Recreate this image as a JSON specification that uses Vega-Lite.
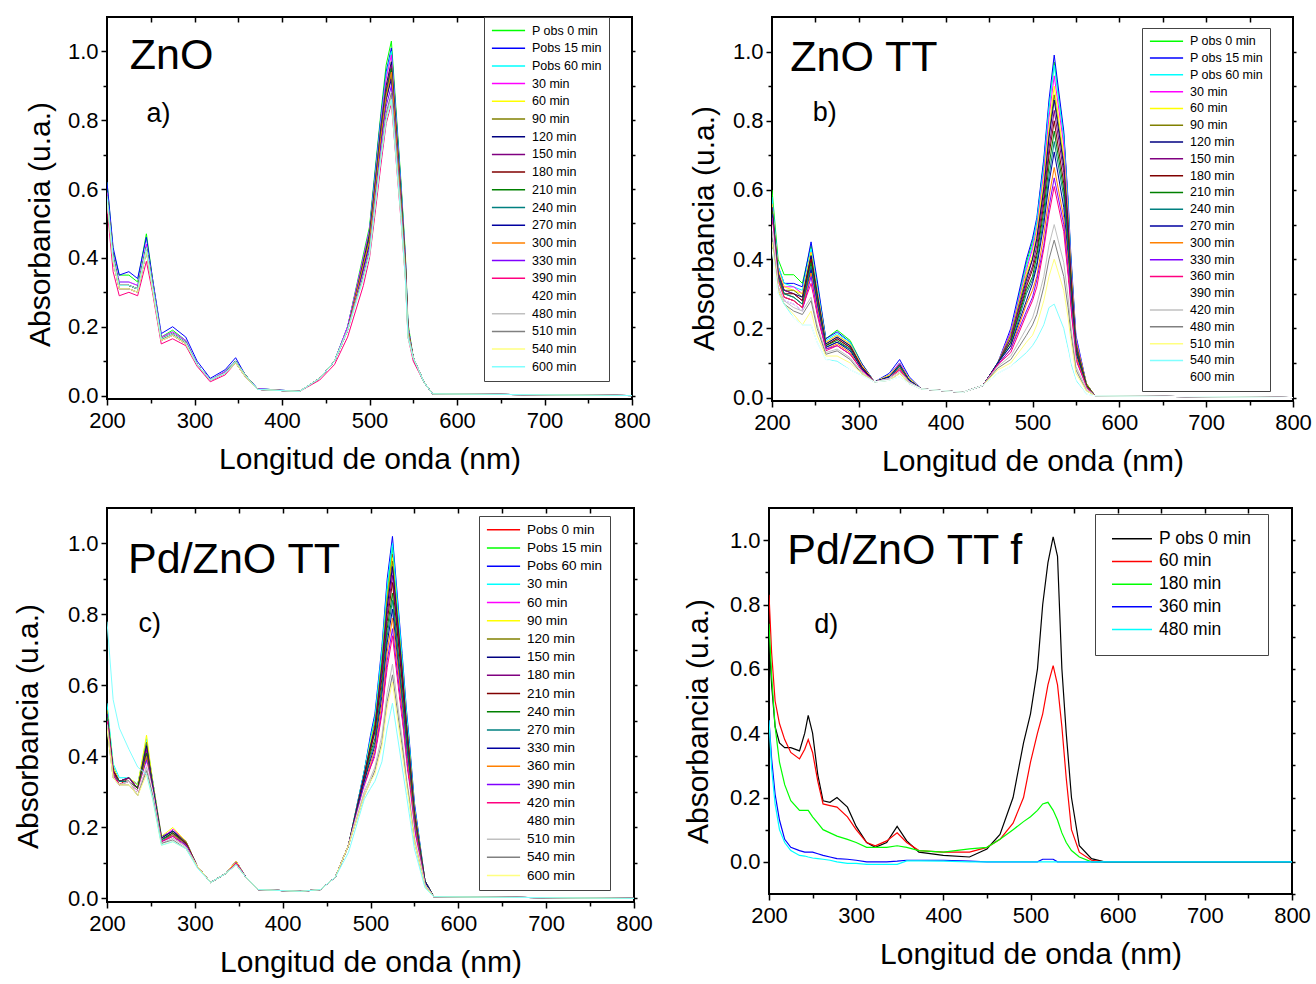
{
"$schema":"https://vega.github.io/schema/vega-lite/v6.json",
"background":"white",
"padding":{"left":12,"top":15,"right":2,"bottom":2},
"config":{
 "font":"Liberation Sans",
 "view":{"stroke":"black","strokeWidth":2},
 "axis":{"grid":false,"domain":false,"labelFlush":false,"tickColor":"black","tickWidth":1.5,"labelColor":"black","titleColor":"black","labelFontSize":22,"titleFontSize":30,"titleFontWeight":"normal","labelFont":"Liberation Sans","titleFont":"Liberation Sans"},
 "legend":{"orient":"none","symbolType":"stroke","symbolStrokeWidth":1.5,"symbolSize":1100,"labelFont":"Liberation Sans","labelColor":"black","padding":7,"strokeColor":"#444","fillColor":"white","labelOffset":6,"labelLimit":300},
 "text":{"font":"Liberation Sans","color":"black"}
},
"datasets":{
"a":[
{"w":200,"P0":0.62,"P15":0.62,"P60":0.59,"30":0.59,"60":0.58,"90":0.58,"120":0.58,"150":0.58,"180":0.57,"210":0.58,"240":0.58,"270":0.58,"300":0.58,"330":0.57,"390":0.55,"420":0.57,"480":0.57,"510":0.57,"540":0.57,"600":0.58},
{"w":207,"P0":0.42,"P15":0.43,"P60":0.41,"30":0.41,"60":0.40,"90":0.40,"120":0.40,"150":0.40,"180":0.39,"210":0.40,"240":0.40,"270":0.40,"300":0.40,"330":0.39,"390":0.36,"420":0.39,"480":0.39,"510":0.39,"540":0.39,"600":0.40},
{"w":214,"P0":0.35,"P15":0.35,"P60":0.33,"30":0.33,"60":0.32,"90":0.32,"120":0.32,"150":0.32,"180":0.31,"210":0.32,"240":0.32,"270":0.32,"300":0.32,"330":0.31,"390":0.29,"420":0.31,"480":0.31,"510":0.31,"540":0.31,"600":0.32},
{"w":225,"P0":0.35,"P15":0.36,"P60":0.33,"30":0.33,"60":0.32,"90":0.32,"120":0.32,"150":0.32,"180":0.31,"210":0.32,"240":0.32,"270":0.32,"300":0.32,"330":0.31,"390":0.30,"420":0.31,"480":0.31,"510":0.31,"540":0.31,"600":0.32},
{"w":235,"P0":0.33,"P15":0.34,"P60":0.32,"30":0.32,"60":0.31,"90":0.31,"120":0.31,"150":0.31,"180":0.30,"210":0.31,"240":0.31,"270":0.31,"300":0.31,"330":0.30,"390":0.29,"420":0.30,"480":0.30,"510":0.30,"540":0.30,"600":0.31},
{"w":245,"P0":0.47,"P15":0.46,"P60":0.44,"30":0.44,"60":0.43,"90":0.43,"120":0.43,"150":0.43,"180":0.42,"210":0.43,"240":0.43,"270":0.43,"300":0.43,"330":0.42,"390":0.39,"420":0.42,"480":0.42,"510":0.42,"540":0.42,"600":0.43},
{"w":252,"P0":0.34,"P15":0.34,"P60":0.33,"30":0.33,"60":0.32,"90":0.32,"120":0.32,"150":0.32,"180":0.31,"210":0.32,"240":0.32,"270":0.32,"300":0.32,"330":0.31,"390":0.30,"420":0.31,"480":0.31,"510":0.31,"540":0.31,"600":0.32},
{"w":262,"P0":0.17,"P15":0.18,"P60":0.17,"30":0.17,"60":0.165,"90":0.165,"120":0.165,"150":0.165,"180":0.16,"210":0.165,"240":0.165,"270":0.165,"300":0.165,"330":0.16,"390":0.15,"420":0.16,"480":0.16,"510":0.16,"540":0.16,"600":0.165},
{"w":275,"P0":0.19,"P15":0.20,"P60":0.185,"30":0.185,"60":0.18,"90":0.18,"120":0.18,"150":0.18,"180":0.175,"210":0.18,"240":0.18,"270":0.18,"300":0.18,"330":0.175,"390":0.165,"420":0.175,"480":0.175,"510":0.175,"540":0.175,"600":0.18},
{"w":290,"P0":0.16,"P15":0.17,"P60":0.16,"30":0.16,"60":0.155,"90":0.155,"120":0.155,"150":0.155,"180":0.15,"210":0.155,"240":0.155,"270":0.155,"300":0.155,"330":0.15,"390":0.145,"420":0.15,"480":0.15,"510":0.15,"540":0.15,"600":0.155},
{"w":303,"P0":0.09,"P15":0.10,"P60":0.09,"30":0.09,"60":0.09,"90":0.09,"120":0.09,"150":0.09,"180":0.09,"210":0.09,"240":0.09,"270":0.09,"300":0.09,"330":0.09,"390":0.085,"420":0.09,"480":0.09,"510":0.09,"540":0.09,"600":0.09},
{"w":318,"P0":0.045,"P15":0.05,"P60":0.045,"30":0.045,"60":0.045,"90":0.045,"120":0.045,"150":0.045,"180":0.045,"210":0.045,"240":0.045,"270":0.045,"300":0.045,"330":0.045,"390":0.04,"420":0.045,"480":0.045,"510":0.045,"540":0.045,"600":0.045},
{"w":335,"P0":0.07,"P15":0.075,"P60":0.07,"30":0.07,"60":0.065,"90":0.065,"120":0.065,"150":0.065,"180":0.065,"210":0.065,"240":0.065,"270":0.065,"300":0.065,"330":0.065,"390":0.06,"420":0.065,"480":0.065,"510":0.065,"540":0.065,"600":0.065},
{"w":347,"P0":0.10,"P15":0.11,"P60":0.10,"30":0.10,"60":0.10,"90":0.10,"120":0.10,"150":0.10,"180":0.095,"210":0.10,"240":0.10,"270":0.10,"300":0.10,"330":0.095,"390":0.095,"420":0.095,"480":0.095,"510":0.095,"540":0.095,"600":0.10},
{"w":358,"P0":0.06,"P15":0.06,"P60":0.06,"30":0.06,"60":0.06,"90":0.06,"120":0.06,"150":0.06,"180":0.055,"210":0.06,"240":0.06,"270":0.06,"300":0.06,"330":0.055,"390":0.055,"420":0.055,"480":0.055,"510":0.055,"540":0.055,"600":0.06},
{"w":372,"P0":0.02,"P15":0.02,"P60":0.02,"30":0.02,"60":0.018,"90":0.018,"120":0.018,"150":0.018,"180":0.018,"210":0.018,"240":0.018,"270":0.018,"300":0.018,"330":0.018,"390":0.018,"420":0.018,"480":0.018,"510":0.018,"540":0.018,"600":0.018},
{"w":420,"P0":0.012,"P15":0.012,"P60":0.012,"30":0.012,"60":0.012,"90":0.012,"120":0.012,"150":0.012,"180":0.012,"210":0.012,"240":0.012,"270":0.012,"300":0.012,"330":0.012,"390":0.012,"420":0.012,"480":0.012,"510":0.012,"540":0.012,"600":0.012},
{"w":443,"P0":0.05,"P15":0.05,"P60":0.05,"30":0.05,"60":0.05,"90":0.05,"120":0.05,"150":0.05,"180":0.05,"210":0.05,"240":0.05,"270":0.05,"300":0.05,"330":0.05,"390":0.045,"420":0.05,"480":0.05,"510":0.05,"540":0.05,"600":0.05},
{"w":460,"P0":0.10,"P15":0.10,"P60":0.10,"30":0.10,"60":0.10,"90":0.10,"120":0.10,"150":0.10,"180":0.10,"210":0.10,"240":0.10,"270":0.10,"300":0.10,"330":0.10,"390":0.09,"420":0.10,"480":0.10,"510":0.10,"540":0.10,"600":0.10},
{"w":475,"P0":0.20,"P15":0.20,"P60":0.20,"30":0.20,"60":0.19,"90":0.19,"120":0.19,"150":0.19,"180":0.19,"210":0.19,"240":0.19,"270":0.19,"300":0.19,"330":0.19,"390":0.17,"420":0.19,"480":0.19,"510":0.19,"540":0.19,"600":0.19},
{"w":493,"P0":0.41,"P15":0.40,"P60":0.40,"30":0.40,"60":0.39,"90":0.38,"120":0.39,"150":0.38,"180":0.37,"210":0.38,"240":0.38,"270":0.37,"300":0.38,"330":0.36,"390":0.32,"420":0.35,"480":0.35,"510":0.35,"540":0.34,"600":0.34},
{"w":500,"P0":0.49,"P15":0.48,"P60":0.48,"30":0.48,"60":0.47,"90":0.46,"120":0.47,"150":0.46,"180":0.45,"210":0.46,"240":0.45,"270":0.44,"300":0.45,"330":0.43,"390":0.40,"420":0.42,"480":0.42,"510":0.42,"540":0.41,"600":0.41},
{"w":505,"P0":0.62,"P15":0.61,"P60":0.60,"30":0.59,"60":0.58,"90":0.57,"120":0.58,"150":0.58,"180":0.56,"210":0.57,"240":0.56,"270":0.55,"300":0.56,"330":0.54,"390":0.50,"420":0.53,"480":0.52,"510":0.53,"540":0.52,"600":0.52},
{"w":513,"P0":0.82,"P15":0.81,"P60":0.80,"30":0.79,"60":0.78,"90":0.76,"120":0.78,"150":0.77,"180":0.74,"210":0.76,"240":0.75,"270":0.74,"300":0.75,"330":0.72,"390":0.67,"420":0.70,"480":0.70,"510":0.70,"540":0.69,"600":0.69},
{"w":519,"P0":0.96,"P15":0.94,"P60":0.93,"30":0.92,"60":0.90,"90":0.88,"120":0.90,"150":0.89,"180":0.86,"210":0.88,"240":0.87,"270":0.86,"300":0.87,"330":0.84,"390":0.79,"420":0.82,"480":0.81,"510":0.82,"540":0.80,"600":0.80},
{"w":525,"P0":1.03,"P15":1.01,"P60":1.00,"30":0.99,"60":0.97,"90":0.95,"120":0.97,"150":0.96,"180":0.93,"210":0.95,"240":0.94,"270":0.92,"300":0.94,"330":0.90,"390":0.85,"420":0.88,"480":0.87,"510":0.88,"540":0.86,"600":0.86},
{"w":536,"P0":0.62,"P15":0.61,"P60":0.60,"30":0.59,"60":0.58,"90":0.57,"120":0.58,"150":0.58,"180":0.56,"210":0.57,"240":0.56,"270":0.55,"300":0.56,"330":0.54,"390":0.51,"420":0.53,"480":0.52,"510":0.53,"540":0.52,"600":0.52},
{"w":541,"P0":0.41,"P15":0.40,"P60":0.40,"30":0.40,"60":0.39,"90":0.38,"120":0.39,"150":0.38,"180":0.37,"210":0.38,"240":0.38,"270":0.37,"300":0.38,"330":0.36,"390":0.34,"420":0.35,"480":0.35,"510":0.35,"540":0.34,"600":0.34},
{"w":544,"P0":0.21,"P15":0.20,"P60":0.20,"30":0.20,"60":0.19,"90":0.19,"120":0.19,"150":0.19,"180":0.19,"210":0.19,"240":0.19,"270":0.18,"300":0.19,"330":0.18,"390":0.17,"420":0.18,"480":0.17,"510":0.18,"540":0.17,"600":0.17},
{"w":550,"P0":0.11,"P15":0.11,"P60":0.11,"30":0.11,"60":0.11,"90":0.11,"120":0.11,"150":0.11,"180":0.11,"210":0.11,"240":0.11,"270":0.11,"300":0.11,"330":0.11,"390":0.10,"420":0.11,"480":0.11,"510":0.11,"540":0.11,"600":0.11},
{"w":562,"P0":0.04,"P15":0.04,"P60":0.04,"30":0.04,"60":0.04,"90":0.04,"120":0.04,"150":0.04,"180":0.04,"210":0.04,"240":0.04,"270":0.04,"300":0.04,"330":0.04,"390":0.04,"420":0.04,"480":0.04,"510":0.04,"540":0.04,"600":0.04},
{"w":572,"P0":0.005,"P15":0.005,"P60":0.005,"30":0.005,"60":0.005,"90":0.005,"120":0.005,"150":0.005,"180":0.005,"210":0.005,"240":0.005,"270":0.005,"300":0.005,"330":0.005,"390":0.005,"420":0.005,"480":0.005,"510":0.005,"540":0.005,"600":0.005},
{"w":800,"P0":0,"P15":0,"P60":0,"30":0,"60":0,"90":0,"120":0,"150":0,"180":0,"210":0,"240":0,"270":0,"300":0,"330":0,"390":0,"420":0,"480":0,"510":0,"540":0,"600":0}
],
"b":[
{"w":200,"P0":0.60,"P15":0.57,"P60":0.58,"30":0.56,"60":0.56,"90":0.55,"120":0.55,"150":0.55,"180":0.54,"210":0.54,"240":0.53,"270":0.53,"300":0.52,"330":0.52,"360":0.51,"390":0.50,"420":0.48,"480":0.46,"510":0.45,"540":0.43,"600":0.43},
{"w":207,"P0":0.40,"P15":0.38,"P60":0.38,"30":0.37,"60":0.37,"90":0.36,"120":0.36,"150":0.36,"180":0.35,"210":0.35,"240":0.35,"270":0.34,"300":0.34,"330":0.33,"360":0.33,"390":0.33,"420":0.32,"480":0.31,"510":0.31,"540":0.30,"600":0.30},
{"w":214,"P0":0.355,"P15":0.33,"P60":0.33,"30":0.32,"60":0.32,"90":0.31,"120":0.31,"150":0.31,"180":0.30,"210":0.30,"240":0.30,"270":0.29,"300":0.29,"330":0.28,"360":0.29,"390":0.28,"420":0.28,"480":0.27,"510":0.27,"540":0.27,"600":0.26},
{"w":225,"P0":0.355,"P15":0.33,"P60":0.32,"30":0.32,"60":0.31,"90":0.31,"120":0.30,"150":0.30,"180":0.30,"210":0.29,"240":0.29,"270":0.28,"300":0.28,"330":0.27,"360":0.28,"390":0.27,"420":0.26,"480":0.25,"510":0.24,"540":0.23,"600":0.23},
{"w":235,"P0":0.33,"P15":0.32,"P60":0.31,"30":0.30,"60":0.30,"90":0.29,"120":0.29,"150":0.28,"180":0.28,"210":0.27,"240":0.27,"270":0.26,"300":0.26,"330":0.25,"360":0.26,"390":0.25,"420":0.25,"480":0.24,"510":0.21,"540":0.21,"600":0.21},
{"w":245,"P0":0.44,"P15":0.45,"P60":0.43,"30":0.42,"60":0.42,"90":0.41,"120":0.41,"150":0.40,"180":0.40,"210":0.39,"240":0.38,"270":0.37,"300":0.36,"330":0.35,"360":0.33,"390":0.31,"420":0.29,"480":0.28,"510":0.25,"540":0.21,"600":0.21},
{"w":252,"P0":0.33,"P15":0.34,"P60":0.32,"30":0.31,"60":0.31,"90":0.30,"120":0.30,"150":0.29,"180":0.29,"210":0.28,"240":0.28,"270":0.27,"300":0.26,"330":0.25,"360":0.24,"390":0.22,"420":0.21,"480":0.20,"510":0.18,"540":0.16,"600":0.16},
{"w":262,"P0":0.17,"P15":0.17,"P60":0.165,"30":0.16,"60":0.16,"90":0.155,"120":0.155,"150":0.15,"180":0.15,"210":0.15,"240":0.145,"270":0.145,"300":0.14,"330":0.14,"360":0.135,"390":0.13,"420":0.13,"480":0.125,"510":0.12,"540":0.11,"600":0.11},
{"w":275,"P0":0.195,"P15":0.19,"P60":0.185,"30":0.18,"60":0.18,"90":0.175,"120":0.175,"150":0.17,"180":0.17,"210":0.165,"240":0.16,"270":0.16,"300":0.155,"330":0.15,"360":0.15,"390":0.145,"420":0.14,"480":0.135,"510":0.12,"540":0.105,"600":0.10},
{"w":290,"P0":0.165,"P15":0.16,"P60":0.16,"30":0.155,"60":0.155,"90":0.15,"120":0.15,"150":0.145,"180":0.145,"210":0.14,"240":0.14,"270":0.135,"300":0.13,"330":0.125,"360":0.125,"390":0.12,"420":0.115,"480":0.11,"510":0.10,"540":0.08,"600":0.08},
{"w":303,"P0":0.10,"P15":0.10,"P60":0.095,"30":0.095,"60":0.095,"90":0.09,"120":0.09,"150":0.09,"180":0.09,"210":0.085,"240":0.085,"270":0.085,"300":0.08,"330":0.08,"360":0.08,"390":0.075,"420":0.075,"480":0.07,"510":0.07,"540":0.065,"600":0.065},
{"w":318,"P0":0.045,"P15":0.045,"P60":0.045,"30":0.045,"60":0.045,"90":0.045,"120":0.045,"150":0.045,"180":0.045,"210":0.045,"240":0.045,"270":0.045,"300":0.045,"330":0.045,"360":0.045,"390":0.045,"420":0.045,"480":0.045,"510":0.045,"540":0.045,"600":0.045},
{"w":335,"P0":0.065,"P15":0.07,"P60":0.065,"30":0.065,"60":0.065,"90":0.06,"120":0.06,"150":0.06,"180":0.06,"210":0.06,"240":0.06,"270":0.06,"300":0.055,"330":0.055,"360":0.055,"390":0.055,"420":0.055,"480":0.05,"510":0.05,"540":0.05,"600":0.05},
{"w":347,"P0":0.10,"P15":0.11,"P60":0.10,"30":0.10,"60":0.095,"90":0.095,"120":0.095,"150":0.09,"180":0.09,"210":0.09,"240":0.09,"270":0.085,"300":0.085,"330":0.08,"360":0.08,"390":0.075,"420":0.075,"480":0.07,"510":0.07,"540":0.06,"600":0.06},
{"w":358,"P0":0.055,"P15":0.06,"P60":0.055,"30":0.055,"60":0.055,"90":0.05,"120":0.05,"150":0.05,"180":0.05,"210":0.05,"240":0.05,"270":0.05,"300":0.045,"330":0.045,"360":0.045,"390":0.045,"420":0.045,"480":0.04,"510":0.04,"540":0.04,"600":0.04},
{"w":372,"P0":0.025,"P15":0.025,"P60":0.025,"30":0.025,"60":0.025,"90":0.025,"120":0.025,"150":0.025,"180":0.025,"210":0.025,"240":0.025,"270":0.025,"300":0.025,"330":0.025,"360":0.025,"390":0.025,"420":0.025,"480":0.025,"510":0.025,"540":0.025,"600":0.025},
{"w":420,"P0":0.015,"P15":0.015,"P60":0.015,"30":0.015,"60":0.015,"90":0.015,"120":0.015,"150":0.015,"180":0.015,"210":0.015,"240":0.015,"270":0.015,"300":0.015,"330":0.015,"360":0.015,"390":0.015,"420":0.015,"480":0.015,"510":0.015,"540":0.015,"600":0.015},
{"w":443,"P0":0.035,"P15":0.035,"P60":0.035,"30":0.035,"60":0.035,"90":0.035,"120":0.035,"150":0.035,"180":0.035,"210":0.035,"240":0.035,"270":0.035,"300":0.035,"330":0.035,"360":0.035,"390":0.035,"420":0.035,"480":0.035,"510":0.035,"540":0.035,"600":0.035},
{"w":460,"P0":0.10,"P15":0.10,"P60":0.10,"30":0.10,"60":0.10,"90":0.10,"120":0.10,"150":0.10,"180":0.10,"210":0.10,"240":0.10,"270":0.10,"300":0.095,"330":0.095,"360":0.095,"390":0.09,"420":0.09,"480":0.085,"510":0.08,"540":0.07,"600":0.07},
{"w":475,"P0":0.19,"P15":0.20,"P60":0.19,"30":0.19,"60":0.18,"90":0.18,"120":0.17,"150":0.17,"180":0.16,"210":0.16,"240":0.15,"270":0.15,"300":0.14,"330":0.14,"360":0.13,"390":0.12,"420":0.12,"480":0.11,"510":0.10,"540":0.09,"600":0.09},
{"w":493,"P0":0.39,"P15":0.40,"P60":0.38,"30":0.37,"60":0.36,"90":0.35,"120":0.34,"150":0.33,"180":0.32,"210":0.31,"240":0.30,"270":0.28,"300":0.27,"330":0.25,"360":0.24,"390":0.22,"420":0.20,"480":0.18,"510":0.16,"540":0.13,"600":0.12},
{"w":500,"P0":0.45,"P15":0.46,"P60":0.44,"30":0.43,"60":0.41,"90":0.40,"120":0.40,"150":0.38,"180":0.37,"210":0.35,"240":0.34,"270":0.33,"300":0.31,"330":0.29,"360":0.28,"390":0.25,"420":0.23,"480":0.21,"510":0.18,"540":0.15,"600":0.14},
{"w":505,"P0":0.51,"P15":0.52,"P60":0.51,"30":0.49,"60":0.48,"90":0.46,"120":0.46,"150":0.44,"180":0.42,"210":0.41,"240":0.39,"270":0.38,"300":0.35,"330":0.34,"360":0.32,"390":0.29,"420":0.27,"480":0.24,"510":0.21,"540":0.17,"600":0.16},
{"w":513,"P0":0.68,"P15":0.69,"P60":0.67,"30":0.65,"60":0.63,"90":0.61,"120":0.60,"150":0.58,"180":0.56,"210":0.54,"240":0.52,"270":0.50,"300":0.47,"330":0.44,"360":0.43,"390":0.39,"420":0.35,"480":0.32,"510":0.28,"540":0.21,"600":0.20},
{"w":519,"P0":0.84,"P15":0.86,"P60":0.84,"30":0.81,"60":0.78,"90":0.76,"120":0.75,"150":0.72,"180":0.70,"210":0.67,"240":0.64,"270":0.62,"300":0.58,"330":0.55,"360":0.53,"390":0.48,"420":0.44,"480":0.40,"510":0.35,"540":0.26,"600":0.24},
{"w":525,"P0":0.97,"P15":0.99,"P60":0.96,"30":0.93,"60":0.90,"90":0.875,"120":0.86,"150":0.83,"180":0.80,"210":0.77,"240":0.74,"270":0.71,"300":0.665,"330":0.635,"360":0.61,"390":0.55,"420":0.50,"480":0.455,"510":0.40,"540":0.27,"600":0.25},
{"w":536,"P0":0.76,"P15":0.77,"P60":0.75,"30":0.73,"60":0.70,"90":0.68,"120":0.67,"150":0.65,"180":0.62,"210":0.60,"240":0.58,"270":0.55,"300":0.52,"330":0.50,"360":0.48,"390":0.43,"420":0.39,"480":0.35,"510":0.31,"540":0.20,"600":0.18},
{"w":541,"P0":0.56,"P15":0.57,"P60":0.56,"30":0.54,"60":0.52,"90":0.51,"120":0.50,"150":0.48,"180":0.46,"210":0.45,"240":0.43,"270":0.41,"300":0.39,"330":0.37,"360":0.35,"390":0.32,"420":0.29,"480":0.26,"510":0.23,"540":0.14,"600":0.13},
{"w":544,"P0":0.41,"P15":0.42,"P60":0.40,"30":0.39,"60":0.38,"90":0.37,"120":0.36,"150":0.35,"180":0.34,"210":0.32,"240":0.31,"270":0.30,"300":0.28,"330":0.27,"360":0.26,"390":0.23,"420":0.21,"480":0.19,"510":0.17,"540":0.10,"600":0.09},
{"w":550,"P0":0.17,"P15":0.18,"P60":0.17,"30":0.17,"60":0.16,"90":0.16,"120":0.15,"150":0.15,"180":0.14,"210":0.14,"240":0.13,"270":0.13,"300":0.12,"330":0.11,"360":0.11,"390":0.10,"420":0.09,"480":0.08,"510":0.07,"540":0.05,"600":0.045},
{"w":562,"P0":0.04,"P15":0.04,"P60":0.04,"30":0.04,"60":0.04,"90":0.04,"120":0.035,"150":0.035,"180":0.035,"210":0.035,"240":0.03,"270":0.03,"300":0.03,"330":0.03,"360":0.03,"390":0.025,"420":0.025,"480":0.02,"510":0.02,"540":0.01,"600":0.01},
{"w":572,"P0":0.005,"P15":0.005,"P60":0.005,"30":0.005,"60":0.005,"90":0.005,"120":0.005,"150":0.005,"180":0.005,"210":0.005,"240":0.005,"270":0.005,"300":0.005,"330":0.005,"360":0.005,"390":0.005,"420":0.005,"480":0.005,"510":0.005,"540":0.005,"600":0.005},
{"w":800,"P0":0,"P15":0,"P60":0,"30":0,"60":0,"90":0,"120":0,"150":0,"180":0,"210":0,"240":0,"270":0,"300":0,"330":0,"360":0,"390":0,"420":0,"480":0,"510":0,"540":0,"600":0}
],
"c":[
{"w":200,"P0":0.52,"P15":0.54,"P60":0.53,"30":0.55,"60":0.52,"90":0.53,"120":0.53,"150":0.52,"180":0.52,"210":0.51,"240":0.51,"270":0.51,"330":0.50,"360":0.50,"390":0.50,"420":0.50,"480":0.49,"510":0.49,"540":0.48,"600":0.48,"x":0.78},
{"w":207,"P0":0.36,"P15":0.37,"P60":0.37,"30":0.38,"60":0.36,"90":0.37,"120":0.36,"150":0.36,"180":0.36,"210":0.36,"240":0.35,"270":0.35,"330":0.35,"360":0.35,"390":0.35,"420":0.35,"480":0.34,"510":0.34,"540":0.34,"600":0.34,"x":0.56},
{"w":214,"P0":0.32,"P15":0.33,"P60":0.33,"30":0.34,"60":0.33,"90":0.33,"120":0.33,"150":0.33,"180":0.33,"210":0.33,"240":0.33,"270":0.33,"330":0.32,"360":0.32,"390":0.32,"420":0.32,"480":0.32,"510":0.32,"540":0.32,"600":0.32,"x":0.48},
{"w":225,"P0":0.34,"P15":0.34,"P60":0.34,"30":0.34,"60":0.34,"90":0.34,"120":0.34,"150":0.34,"180":0.34,"210":0.33,"240":0.33,"270":0.33,"330":0.33,"360":0.33,"390":0.33,"420":0.33,"480":0.33,"510":0.33,"540":0.32,"600":0.32,"x":0.42},
{"w":235,"P0":0.31,"P15":0.32,"P60":0.32,"30":0.32,"60":0.31,"90":0.32,"120":0.31,"150":0.31,"180":0.31,"210":0.31,"240":0.31,"270":0.30,"330":0.30,"360":0.30,"390":0.30,"420":0.30,"480":0.30,"510":0.29,"540":0.29,"600":0.29,"x":0.37},
{"w":245,"P0":0.43,"P15":0.44,"P60":0.44,"30":0.45,"60":0.42,"90":0.46,"120":0.44,"150":0.43,"180":0.42,"210":0.41,"240":0.41,"270":0.40,"330":0.40,"360":0.40,"390":0.39,"420":0.38,"480":0.38,"510":0.37,"540":0.36,"600":0.35,"x":0.35},
{"w":252,"P0":0.32,"P15":0.33,"P60":0.33,"30":0.33,"60":0.32,"90":0.33,"120":0.32,"150":0.32,"180":0.32,"210":0.31,"240":0.31,"270":0.31,"330":0.31,"360":0.30,"390":0.30,"420":0.30,"480":0.30,"510":0.29,"540":0.29,"600":0.28,"x":0.28},
{"w":262,"P0":0.17,"P15":0.17,"P60":0.175,"30":0.17,"60":0.17,"90":0.175,"120":0.17,"150":0.17,"180":0.165,"210":0.165,"240":0.165,"270":0.165,"330":0.16,"360":0.16,"390":0.16,"420":0.16,"480":0.155,"510":0.155,"540":0.155,"600":0.15,"x":0.15},
{"w":275,"P0":0.19,"P15":0.19,"P60":0.19,"30":0.19,"60":0.195,"90":0.20,"120":0.19,"150":0.19,"180":0.185,"210":0.185,"240":0.185,"270":0.18,"330":0.18,"360":0.18,"390":0.175,"420":0.175,"480":0.17,"510":0.17,"540":0.165,"600":0.16,"x":0.16},
{"w":290,"P0":0.155,"P15":0.155,"P60":0.16,"30":0.16,"60":0.16,"90":0.16,"120":0.16,"150":0.155,"180":0.155,"210":0.155,"240":0.15,"270":0.15,"330":0.15,"360":0.15,"390":0.15,"420":0.145,"480":0.145,"510":0.145,"540":0.14,"600":0.14,"x":0.14},
{"w":303,"P0":0.09,"P15":0.09,"P60":0.09,"30":0.09,"60":0.09,"90":0.09,"120":0.09,"150":0.09,"180":0.09,"210":0.09,"240":0.09,"270":0.09,"330":0.09,"360":0.09,"390":0.09,"420":0.09,"480":0.09,"510":0.09,"540":0.09,"600":0.09,"x":0.085},
{"w":318,"P0":0.045,"P15":0.045,"P60":0.045,"30":0.045,"60":0.045,"90":0.045,"120":0.045,"150":0.045,"180":0.045,"210":0.045,"240":0.045,"270":0.045,"330":0.045,"360":0.045,"390":0.045,"420":0.045,"480":0.045,"510":0.045,"540":0.045,"600":0.045,"x":0.045},
{"w":335,"P0":0.07,"P15":0.07,"P60":0.07,"30":0.07,"60":0.07,"90":0.07,"120":0.07,"150":0.07,"180":0.07,"210":0.07,"240":0.07,"270":0.07,"330":0.07,"360":0.07,"390":0.07,"420":0.07,"480":0.07,"510":0.07,"540":0.07,"600":0.07,"x":0.07},
{"w":347,"P0":0.105,"P15":0.105,"P60":0.105,"30":0.105,"60":0.105,"90":0.105,"120":0.10,"150":0.10,"180":0.10,"210":0.10,"240":0.10,"270":0.10,"330":0.10,"360":0.10,"390":0.10,"420":0.10,"480":0.095,"510":0.095,"540":0.095,"600":0.095,"x":0.095},
{"w":358,"P0":0.06,"P15":0.06,"P60":0.06,"30":0.06,"60":0.06,"90":0.06,"120":0.06,"150":0.06,"180":0.06,"210":0.06,"240":0.06,"270":0.06,"330":0.06,"360":0.06,"390":0.06,"420":0.06,"480":0.06,"510":0.06,"540":0.06,"600":0.06,"x":0.06},
{"w":372,"P0":0.025,"P15":0.025,"P60":0.025,"30":0.025,"60":0.025,"90":0.025,"120":0.025,"150":0.025,"180":0.025,"210":0.025,"240":0.025,"270":0.025,"330":0.025,"360":0.025,"390":0.025,"420":0.025,"480":0.025,"510":0.025,"540":0.025,"600":0.025,"x":0.025},
{"w":420,"P0":0.02,"P15":0.02,"P60":0.02,"30":0.02,"60":0.02,"90":0.02,"120":0.02,"150":0.02,"180":0.02,"210":0.02,"240":0.02,"270":0.02,"330":0.02,"360":0.02,"390":0.02,"420":0.02,"480":0.02,"510":0.02,"540":0.02,"600":0.02,"x":0.02},
{"w":443,"P0":0.025,"P15":0.025,"P60":0.025,"30":0.025,"60":0.025,"90":0.025,"120":0.025,"150":0.025,"180":0.025,"210":0.025,"240":0.025,"270":0.025,"330":0.025,"360":0.025,"390":0.025,"420":0.025,"480":0.025,"510":0.025,"540":0.025,"600":0.025,"x":0.025},
{"w":460,"P0":0.06,"P15":0.06,"P60":0.06,"30":0.06,"60":0.06,"90":0.06,"120":0.06,"150":0.06,"180":0.06,"210":0.06,"240":0.06,"270":0.06,"330":0.06,"360":0.06,"390":0.06,"420":0.06,"480":0.06,"510":0.06,"540":0.06,"600":0.06,"x":0.06},
{"w":475,"P0":0.15,"P15":0.15,"P60":0.15,"30":0.15,"60":0.15,"90":0.15,"120":0.15,"150":0.15,"180":0.15,"210":0.15,"240":0.15,"270":0.15,"330":0.15,"360":0.15,"390":0.15,"420":0.15,"480":0.15,"510":0.15,"540":0.15,"600":0.15,"x":0.13},
{"w":493,"P0":0.355,"P15":0.36,"P60":0.36,"30":0.36,"60":0.35,"90":0.35,"120":0.35,"150":0.35,"180":0.34,"210":0.34,"240":0.33,"270":0.33,"330":0.33,"360":0.32,"390":0.32,"420":0.31,"480":0.31,"510":0.30,"540":0.29,"600":0.29,"x":0.28},
{"w":500,"P0":0.44,"P15":0.45,"P60":0.46,"30":0.45,"60":0.43,"90":0.44,"120":0.43,"150":0.43,"180":0.42,"210":0.42,"240":0.41,"270":0.40,"330":0.39,"360":0.38,"390":0.37,"420":0.37,"480":0.36,"510":0.34,"540":0.33,"600":0.33,"x":0.31},
{"w":505,"P0":0.50,"P15":0.51,"P60":0.52,"30":0.51,"60":0.48,"90":0.49,"120":0.49,"150":0.48,"180":0.47,"210":0.47,"240":0.45,"270":0.44,"330":0.43,"360":0.42,"390":0.41,"420":0.40,"480":0.39,"510":0.37,"540":0.36,"600":0.35,"x":0.33},
{"w":513,"P0":0.68,"P15":0.69,"P60":0.71,"30":0.70,"60":0.65,"90":0.67,"120":0.665,"150":0.655,"180":0.64,"210":0.62,"240":0.60,"270":0.59,"330":0.57,"360":0.55,"390":0.53,"420":0.52,"480":0.49,"510":0.46,"540":0.44,"600":0.43,"x":0.385},
{"w":519,"P0":0.85,"P15":0.87,"P60":0.90,"30":0.88,"60":0.82,"90":0.845,"120":0.84,"150":0.82,"180":0.80,"210":0.78,"240":0.76,"270":0.74,"330":0.72,"360":0.695,"390":0.67,"420":0.65,"480":0.62,"510":0.58,"540":0.555,"600":0.54,"x":0.48},
{"w":525,"P0":0.97,"P15":0.99,"P60":1.02,"30":1.00,"60":0.93,"90":0.96,"120":0.95,"150":0.935,"180":0.91,"210":0.89,"240":0.86,"270":0.84,"330":0.815,"360":0.79,"390":0.76,"420":0.74,"480":0.70,"510":0.66,"540":0.63,"600":0.61,"x":0.55},
{"w":536,"P0":0.66,"P15":0.67,"P60":0.69,"30":0.68,"60":0.63,"90":0.65,"120":0.65,"150":0.64,"180":0.62,"210":0.61,"240":0.58,"270":0.57,"330":0.55,"360":0.54,"390":0.52,"420":0.50,"480":0.48,"510":0.45,"540":0.43,"600":0.41,"x":0.37},
{"w":541,"P0":0.50,"P15":0.51,"P60":0.53,"30":0.52,"60":0.48,"90":0.50,"120":0.49,"150":0.49,"180":0.47,"210":0.46,"240":0.45,"270":0.44,"330":0.42,"360":0.41,"390":0.40,"420":0.38,"480":0.36,"510":0.34,"540":0.33,"600":0.32,"x":0.29},
{"w":544,"P0":0.43,"P15":0.44,"P60":0.45,"30":0.44,"60":0.41,"90":0.42,"120":0.42,"150":0.41,"180":0.40,"210":0.39,"240":0.38,"270":0.37,"330":0.36,"360":0.35,"390":0.33,"420":0.33,"480":0.31,"510":0.29,"540":0.28,"600":0.27,"x":0.24},
{"w":550,"P0":0.25,"P15":0.26,"P60":0.27,"30":0.26,"60":0.24,"90":0.25,"120":0.25,"150":0.24,"180":0.24,"210":0.23,"240":0.22,"270":0.22,"330":0.21,"360":0.21,"390":0.20,"420":0.19,"480":0.18,"510":0.17,"540":0.16,"600":0.16,"x":0.14},
{"w":562,"P0":0.05,"P15":0.05,"P60":0.05,"30":0.05,"60":0.05,"90":0.05,"120":0.05,"150":0.05,"180":0.045,"210":0.045,"240":0.045,"270":0.045,"330":0.045,"360":0.04,"390":0.04,"420":0.04,"480":0.04,"510":0.04,"540":0.035,"600":0.035,"x":0.03},
{"w":572,"P0":0.005,"P15":0.005,"P60":0.005,"30":0.005,"60":0.005,"90":0.005,"120":0.005,"150":0.005,"180":0.005,"210":0.005,"240":0.005,"270":0.005,"330":0.005,"360":0.005,"390":0.005,"420":0.005,"480":0.005,"510":0.005,"540":0.005,"600":0.005,"x":0.005},
{"w":800,"P0":0,"P15":0,"P60":0,"30":0,"60":0,"90":0,"120":0,"150":0,"180":0,"210":0,"240":0,"270":0,"330":0,"360":0,"390":0,"420":0,"480":0,"510":0,"540":0,"600":0,"x":0}
],
"d":[
{"w":200,"P0":0.70,"60":0.83,"180":0.74,"360":0.44,"480":0.44},
{"w":203,"P0":0.55,"60":0.65,"180":0.58,"360":0.32,"480":0.29},
{"w":207,"P0":0.42,"60":0.50,"180":0.42,"360":0.21,"480":0.18},
{"w":212,"P0":0.37,"60":0.43,"180":0.31,"360":0.13,"480":0.10},
{"w":218,"P0":0.355,"60":0.38,"180":0.24,"360":0.07,"480":0.06},
{"w":225,"P0":0.355,"60":0.34,"180":0.19,"360":0.045,"480":0.035},
{"w":235,"P0":0.345,"60":0.32,"180":0.16,"360":0.035,"480":0.02},
{"w":241,"P0":0.40,"60":0.35,"180":0.16,"360":0.03,"480":0.018},
{"w":245,"P0":0.455,"60":0.38,"180":0.16,"360":0.03,"480":0.015},
{"w":250,"P0":0.40,"60":0.34,"180":0.14,"360":0.03,"480":0.012},
{"w":256,"P0":0.27,"60":0.25,"180":0.12,"360":0.025,"480":0.01},
{"w":262,"P0":0.19,"60":0.18,"180":0.10,"360":0.02,"480":0.008},
{"w":270,"P0":0.185,"60":0.175,"180":0.09,"360":0.015,"480":0.005},
{"w":278,"P0":0.20,"60":0.17,"180":0.08,"360":0.01,"480":0},
{"w":290,"P0":0.17,"60":0.14,"180":0.07,"360":0.008,"480":-0.005},
{"w":300,"P0":0.11,"60":0.10,"180":0.06,"360":0.005,"480":-0.005},
{"w":312,"P0":0.06,"60":0.06,"180":0.045,"360":0,"480":-0.008},
{"w":322,"P0":0.045,"60":0.05,"180":0.045,"360":0,"480":-0.008},
{"w":335,"P0":0.06,"60":0.065,"180":0.045,"360":0,"480":-0.008},
{"w":347,"P0":0.11,"60":0.09,"180":0.05,"360":0.002,"480":-0.008},
{"w":358,"P0":0.065,"60":0.06,"180":0.045,"360":0.005,"480":0.003},
{"w":372,"P0":0.03,"60":0.035,"180":0.035,"360":0.005,"480":0.003},
{"w":400,"P0":0.02,"60":0.03,"180":0.03,"360":0.005,"480":0.002},
{"w":430,"P0":0.015,"60":0.03,"180":0.04,"360":0.002,"480":0},
{"w":450,"P0":0.04,"60":0.045,"180":0.045,"360":0,"480":0},
{"w":465,"P0":0.085,"60":0.07,"180":0.07,"360":0,"480":0},
{"w":480,"P0":0.20,"60":0.12,"180":0.10,"360":0,"480":0},
{"w":492,"P0":0.37,"60":0.20,"180":0.125,"360":0,"480":0},
{"w":500,"P0":0.46,"60":0.31,"180":0.14,"360":0,"480":0},
{"w":508,"P0":0.60,"60":0.40,"180":0.16,"360":0,"480":0},
{"w":514,"P0":0.80,"60":0.46,"180":0.18,"360":0.008,"480":0},
{"w":520,"P0":0.93,"60":0.55,"180":0.185,"360":0.008,"480":0},
{"w":526,"P0":1.01,"60":0.61,"180":0.16,"360":0.008,"480":0},
{"w":531,"P0":0.95,"60":0.55,"180":0.13,"360":0,"480":0},
{"w":536,"P0":0.60,"60":0.42,"180":0.09,"360":0,"480":0},
{"w":541,"P0":0.40,"60":0.26,"180":0.06,"360":0,"480":0},
{"w":547,"P0":0.20,"60":0.10,"180":0.035,"360":0,"480":0},
{"w":556,"P0":0.05,"60":0.03,"180":0.015,"360":0,"480":0},
{"w":570,"P0":0.01,"60":0.005,"180":0,"360":0,"480":0},
{"w":585,"P0":0,"60":0,"180":0,"360":0,"480":0},
{"w":800,"P0":0,"60":0,"180":0,"360":0,"480":0}
]
},
"spacing":29,
"resolve":{"scale":{"color":"independent"},"legend":{"color":"independent"}},
"vconcat":[
{"spacing":36,"resolve":{"scale":{"color":"independent"},"legend":{"color":"independent"}},
 "hconcat":[
 {"width":525,"height":382,"resolve":{"axis":{"x":"independent","y":"independent"}},
  "layer":[
  {"data":{"name":"a"},
   "transform":[{"fold":["P0","P15","P60","30","60","90","120","150","180","210","240","270","300","330","390","420","480","510","540","600"],"as":["s","v"]}],
   "mark":{"type":"line","strokeWidth":1,"clip":true},
   "encoding":{
    "x":{"field":"w","type":"quantitative","scale":{"domain":[200,800],"nice":false},"axis":{"orient":"bottom","values":[200,300,400,500,600,700,800],"format":"d","tickSize":6,"labelPadding":5,"title":"Longitud de onda (nm)","titlePadding":13}},
    "y":{"field":"v","type":"quantitative","scale":{"domain":[-0.01,1.1],"nice":false,"zero":false},"axis":{"orient":"left","values":[0,0.2,0.4,0.6,0.8,1],"format":".1f","tickSize":6,"labelPadding":3,"title":"Absorbancia (u.a.)","titlePadding":12,"titleY":207}},
    "color":{"field":"s","type":"nominal","scale":{"domain":["P0","P15","P60","30","60","90","120","150","180","210","240","270","300","330","390","420","480","510","540","600"],"range":["#00FF00","#0000FF","#00FFFF","#FF00FF","#FFFF00","#808000","#000080","#800080","#800000","#008000","#008080","#0000A0","#FF8000","#8000FF","#FF0080","#FFFFFF","#C0C0C0","#808080","#FFFF80","#80FFFF"]},
     "legend":{"title":null,"legendX":377,"legendY":0,"labelFontSize":12.5,"clipHeight":13,"rowPadding":4.7,"labelExpr":"datum.value=='P0'?'P obs 0 min':datum.value=='P15'?'Pobs 15 min':datum.value=='P60'?'Pobs 60 min':datum.value+' min'"}}
   }},
  {"data":{"values":[{"tx":226,"ty":0.948,"t":"ZnO"}]},
   "mark":{"type":"text","fontSize":43,"align":"left","baseline":"alphabetic"},
   "encoding":{
    "x":{"field":"tx","type":"quantitative","scale":{"domain":[200,800],"nice":false},"axis":{"orient":"bottom","values":[250,350,450,550,650,750],"labels":false,"tickSize":4,"title":null}},
    "y":{"field":"ty","type":"quantitative","scale":{"domain":[-0.01,1.1],"nice":false,"zero":false},"axis":{"orient":"left","values":[0.1,0.3,0.5,0.7,0.9],"labels":false,"tickSize":4,"title":null}},
    "text":{"field":"t"}}},
  {"data":{"values":[{"tx":245,"ty":0.795,"t":"a)"}]},
   "mark":{"type":"text","fontSize":27,"align":"left","baseline":"alphabetic"},
   "encoding":{
    "x":{"field":"tx","type":"quantitative","scale":{"domain":[200,800],"nice":false},"axis":{"orient":"top","values":[250,300,350,400,450,500,550,600,650,700,750],"labels":false,"tickSize":-5,"title":null}},
    "y":{"field":"ty","type":"quantitative","scale":{"domain":[-0.01,1.1],"nice":false,"zero":false},"axis":{"orient":"right","values":[0,0.1,0.2,0.3,0.4,0.5,0.6,0.7,0.8,0.9,1],"labels":false,"tickSize":3,"title":null}},
    "text":{"field":"t"}}}
  ]},
 {"width":521,"height":384,"resolve":{"axis":{"x":"independent","y":"independent"}},
  "layer":[
  {"data":{"name":"b"},
   "transform":[{"fold":["P0","P15","P60","30","60","90","120","150","180","210","240","270","300","330","360","390","420","480","510","540","600"],"as":["s","v"]}],
   "mark":{"type":"line","strokeWidth":1,"clip":true},
   "encoding":{
    "x":{"field":"w","type":"quantitative","scale":{"domain":[200,800],"nice":false},"axis":{"orient":"bottom","values":[200,300,400,500,600,700,800],"format":"d","tickSize":6,"labelPadding":5,"title":"Longitud de onda (nm)","titlePadding":13}},
    "y":{"field":"v","type":"quantitative","scale":{"domain":[-0.01,1.1],"nice":false,"zero":false},"axis":{"orient":"left","values":[0,0.2,0.4,0.6,0.8,1],"format":".1f","tickSize":6,"labelPadding":3,"title":"Absorbancia (u.a.)","titlePadding":13,"titleY":211}},
    "color":{"field":"s","type":"nominal","scale":{"domain":["P0","P15","P60","30","60","90","120","150","180","210","240","270","300","330","360","390","420","480","510","540","600"],"range":["#00FF00","#0000FF","#00FFFF","#FF00FF","#FFFF00","#808000","#000080","#800080","#800000","#008000","#008080","#0000A0","#FF8000","#8000FF","#FF0080","#FFFFFF","#C0C0C0","#808080","#FFFF80","#80FFFF","#FFFFFF"]},
     "legend":{"title":null,"legendX":370,"legendY":11,"labelFontSize":12.5,"clipHeight":12.5,"rowPadding":3.8,"labelExpr":"datum.value=='P0'?'P obs 0 min':datum.value=='P15'?'P obs 15 min':datum.value=='P60'?'P obs 60 min':datum.value+' min'"}}
   }},
  {"data":{"values":[{"tx":221,"ty":0.943,"t":"ZnO TT"}]},
   "mark":{"type":"text","fontSize":43,"align":"left","baseline":"alphabetic"},
   "encoding":{
    "x":{"field":"tx","type":"quantitative","scale":{"domain":[200,800],"nice":false},"axis":{"orient":"bottom","values":[250,350,450,550,650,750],"labels":false,"tickSize":4,"title":null}},
    "y":{"field":"ty","type":"quantitative","scale":{"domain":[-0.01,1.1],"nice":false,"zero":false},"axis":{"orient":"left","values":[0.1,0.3,0.5,0.7,0.9],"labels":false,"tickSize":4,"title":null}},
    "text":{"field":"t"}}},
  {"data":{"values":[{"tx":247,"ty":0.80,"t":"b)"}]},
   "mark":{"type":"text","fontSize":27,"align":"left","baseline":"alphabetic"},
   "encoding":{
    "x":{"field":"tx","type":"quantitative","scale":{"domain":[200,800],"nice":false},"axis":{"orient":"top","values":[250,300,350,400,450,500,550,600,650,700,750],"labels":false,"tickSize":-5,"title":null}},
    "y":{"field":"ty","type":"quantitative","scale":{"domain":[-0.01,1.1],"nice":false,"zero":false},"axis":{"orient":"right","values":[0,0.1,0.2,0.3,0.4,0.5,0.6,0.7,0.8,0.9,1],"labels":false,"tickSize":3,"title":null}},
    "text":{"field":"t"}}}
  ]}
 ]},
{"spacing":28,"resolve":{"scale":{"color":"independent"},"legend":{"color":"independent"}},
 "hconcat":[
 {"width":527,"height":394,"resolve":{"axis":{"x":"independent","y":"independent"}},
  "layer":[
  {"data":{"name":"c"},
   "transform":[{"fold":["P0","P15","P60","30","60","90","120","150","180","210","240","270","330","360","390","420","480","510","540","600"],"as":["s","v"]}],
   "mark":{"type":"line","strokeWidth":1,"clip":true},
   "encoding":{
    "x":{"field":"w","type":"quantitative","scale":{"domain":[200,800],"nice":false},"axis":{"orient":"bottom","values":[200,300,400,500,600,700,800],"format":"d","tickSize":6,"labelPadding":5,"title":"Longitud de onda (nm)","titlePadding":13}},
    "y":{"field":"v","type":"quantitative","scale":{"domain":[-0.01,1.1],"nice":false,"zero":false},"axis":{"orient":"left","values":[0,0.2,0.4,0.6,0.8,1],"format":".1f","tickSize":6,"labelPadding":3,"title":"Absorbancia (u.a.)","titlePadding":24,"titleY":218}},
    "color":{"field":"s","type":"nominal","scale":{"domain":["P0","P15","P60","30","60","90","120","150","180","210","240","270","330","360","390","420","480","510","540","600"],"range":["#FF0000","#00FF00","#0000FF","#00FFFF","#FF00FF","#FFFF00","#808000","#000080","#800080","#800000","#008000","#008080","#0000A0","#FF8000","#8000FF","#FF0080","#FFFFFF","#C0C0C0","#808080","#FFFF80"]},
     "legend":{"title":null,"legendX":372,"legendY":8,"labelFontSize":13.5,"clipHeight":13.5,"rowPadding":3.2,"labelExpr":"datum.value=='P0'?'Pobs 0 min':datum.value=='P15'?'Pobs 15 min':datum.value=='P60'?'Pobs 60 min':datum.value+' min'"}}
   }},
  {"data":{"name":"c"},
   "mark":{"type":"line","strokeWidth":1,"clip":true,"color":"#80FFFF"},
   "encoding":{
    "x":{"field":"w","type":"quantitative","scale":{"domain":[200,800],"nice":false},"axis":null},
    "y":{"field":"x","type":"quantitative","scale":{"domain":[-0.01,1.1],"nice":false,"zero":false},"axis":null}
   }},
  {"data":{"values":[{"tx":224,"ty":0.918,"t":"Pd/ZnO TT"}]},
   "mark":{"type":"text","fontSize":43,"align":"left","baseline":"alphabetic"},
   "encoding":{
    "x":{"field":"tx","type":"quantitative","scale":{"domain":[200,800],"nice":false},"axis":{"orient":"bottom","values":[250,350,450,550,650,750],"labels":false,"tickSize":4,"title":null}},
    "y":{"field":"ty","type":"quantitative","scale":{"domain":[-0.01,1.1],"nice":false,"zero":false},"axis":{"orient":"left","values":[0.1,0.3,0.5,0.7,0.9],"labels":false,"tickSize":4,"title":null}},
    "text":{"field":"t"}}},
  {"data":{"values":[{"tx":236,"ty":0.75,"t":"c)"}]},
   "mark":{"type":"text","fontSize":27,"align":"left","baseline":"alphabetic"},
   "encoding":{
    "x":{"field":"tx","type":"quantitative","scale":{"domain":[200,800],"nice":false},"axis":{"orient":"top","values":[250,300,350,400,450,500,550,600,650,700,750],"labels":false,"tickSize":-5,"title":null}},
    "y":{"field":"ty","type":"quantitative","scale":{"domain":[-0.01,1.1],"nice":false,"zero":false},"axis":{"orient":"right","values":[0,0.1,0.2,0.3,0.4,0.5,0.6,0.7,0.8,0.9,1],"labels":false,"tickSize":3,"title":null}},
    "text":{"field":"t"}}}
  ]},
 {"width":523,"height":386,"resolve":{"axis":{"x":"independent","y":"independent"}},
  "layer":[
  {"data":{"name":"d"},
   "transform":[{"fold":["P0","60","180","360","480"],"as":["s","v"]}],
   "mark":{"type":"line","strokeWidth":1.2,"clip":true},
   "encoding":{
    "x":{"field":"w","type":"quantitative","scale":{"domain":[200,800],"nice":false},"axis":{"orient":"bottom","values":[200,300,400,500,600,700,800],"format":"d","tickSize":6,"labelPadding":5,"title":"Longitud de onda (nm)","titlePadding":13}},
    "y":{"field":"v","type":"quantitative","scale":{"domain":[-0.1,1.1],"nice":false,"zero":false},"axis":{"orient":"left","values":[0,0.2,0.4,0.6,0.8,1],"format":".1f","tickSize":6,"labelPadding":3,"title":"Absorbancia (u.a.)","titlePadding":16,"titleY":213}},
    "color":{"field":"s","type":"nominal","scale":{"domain":["P0","60","180","360","480"],"range":["#000000","#FF0000","#00FF00","#0000FF","#00FFFF"]},
     "legend":{"title":null,"legendX":326,"legendY":6,"labelFontSize":17.5,"symbolSize":1600,"clipHeight":17.5,"rowPadding":3.7,"padding":16,"labelExpr":"datum.value=='P0'?'P obs 0 min':datum.value+' min'"}}
   }},
  {"data":{"values":[{"tx":221,"ty":0.926,"t":"Pd/ZnO TT f"}]},
   "mark":{"type":"text","fontSize":43,"align":"left","baseline":"alphabetic"},
   "encoding":{
    "x":{"field":"tx","type":"quantitative","scale":{"domain":[200,800],"nice":false},"axis":{"orient":"bottom","values":[250,350,450,550,650,750],"labels":false,"tickSize":4,"title":null}},
    "y":{"field":"ty","type":"quantitative","scale":{"domain":[-0.1,1.1],"nice":false,"zero":false},"axis":{"orient":"left","values":[0.1,0.3,0.5,0.7,0.9],"labels":false,"tickSize":4,"title":null}},
    "text":{"field":"t"}}},
  {"data":{"values":[{"tx":252,"ty":0.71,"t":"d)"}]},
   "mark":{"type":"text","fontSize":27,"align":"left","baseline":"alphabetic"},
   "encoding":{
    "x":{"field":"tx","type":"quantitative","scale":{"domain":[200,800],"nice":false},"axis":{"orient":"top","values":[250,300,350,400,450,500,550,600,650,700,750],"labels":false,"tickSize":-5,"title":null}},
    "y":{"field":"ty","type":"quantitative","scale":{"domain":[-0.1,1.1],"nice":false,"zero":false},"axis":{"orient":"right","values":[-0.1,0,0.1,0.2,0.3,0.4,0.5,0.6,0.7,0.8,0.9,1],"labels":false,"tickSize":3,"title":null}},
    "text":{"field":"t"}}}
  ]}
 ]}
]
}
